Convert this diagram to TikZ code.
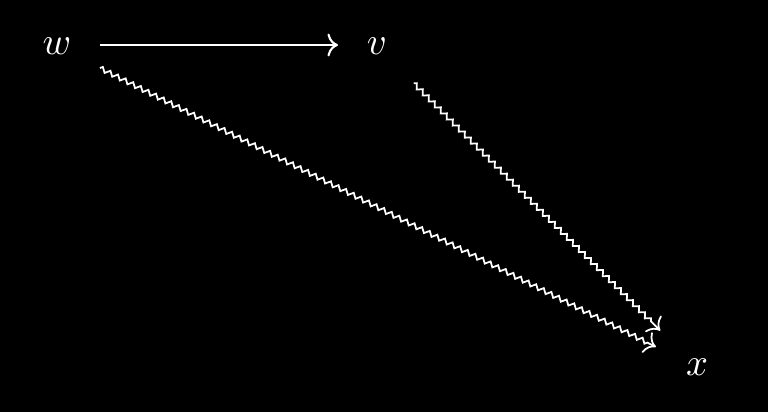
\documentclass[tikz,border=0pt]{standalone}
\usetikzlibrary{decorations.pathmorphing,arrows.meta,calc}
\begin{document}
\begin{tikzpicture}[x=0.01cm,y=-0.01cm,
  lbl/.style={text=white,inner sep=0pt,font=\fontsize{10.5}{12}\selectfont},
  arr/.style={white,line width=0.6pt,-{To[length=3pt,width=6.5pt]}},
  squig/.style={white,line width=0.5pt,-{To[length=3pt,width=6.5pt]},
    decorate,decoration={zigzag,segment length=0.085cm,amplitude=0.65pt,post length=2.5pt}}]
\fill[black] (0,0) rectangle (768,412);
\useasboundingbox (0,0) rectangle (768,412);
\node[lbl] (w) at (57,46.5) {$w$};
\node[lbl] (v) at (377,46.5) {$v$};
\node[lbl] (x) at (697,367.5) {$x$};
\coordinate (a1) at ($(w.center)!0.43cm!(v.center)$);
\coordinate (a2) at ($(v.center)!0.39cm!(w.center)$);
\coordinate (b1) at ($(w.center)!0.48cm!(x.center)$);
\coordinate (b2) at ($(x.center)!0.46cm!(w.center)$);
\coordinate (c1) at ($(v.center)!0.52cm!(x.center)$);
\coordinate (c2) at ($(x.center)!0.52cm!(v.center)$);
\draw[arr] ([yshift=0.015cm]a1) -- ([yshift=0.015cm]a2);
\draw[squig] (b1) -- (b2);
\draw[squig] (c1) -- (c2);
\end{tikzpicture}
\end{document}
